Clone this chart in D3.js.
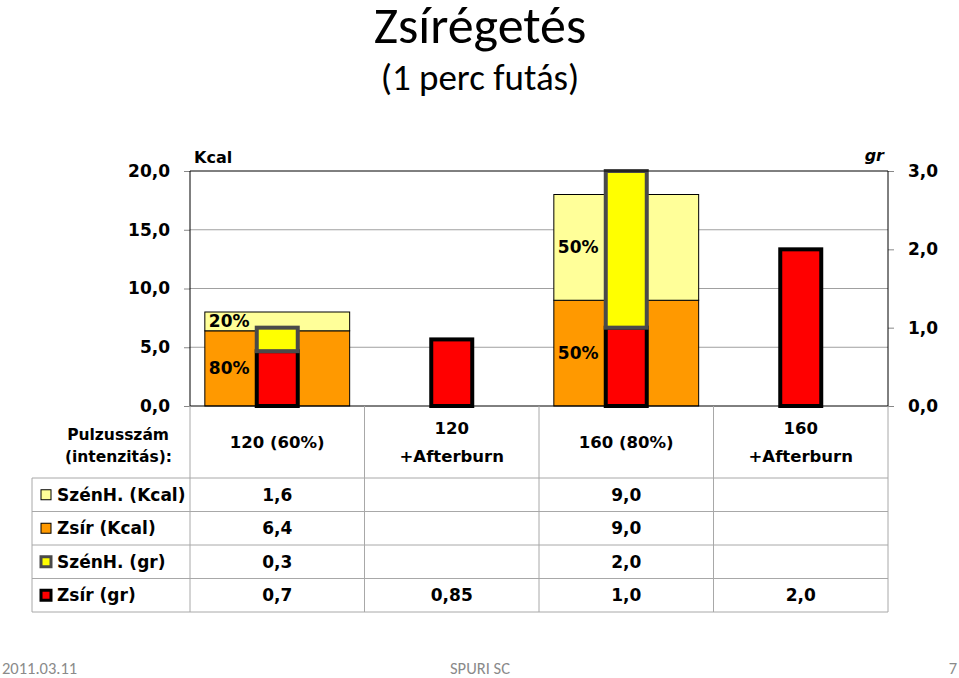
<!DOCTYPE html>
<html><head><meta charset="utf-8">
<script src="https://cdn.jsdelivr.net/npm/d3@7"></script>
<style>
html,body{margin:0;padding:0;background:#fff;}
svg{display:block;}
</style></head>
<body>
<svg id="chart" width="959" height="678"></svg>
<script>
const categories = ["120 (60%)", "120\n+Afterburn", "160 (80%)", "160\n+Afterburn"];
const szenhKcal = [1.6, null, 9.0, null];
const zsirKcal  = [6.4, null, 9.0, null];
const szenhGr   = [0.3, null, 2.0, null];
const zsirGr    = [0.7, 0.85, 1.0, 2.0];
const szenhPct  = ["20%", "", "50%", ""];
const zsirPct   = ["80%", "", "50%", ""];
const leftTicks  = [0, 5, 10, 15, 20];
const rightTicks = [0, 1, 2, 3];
const seriesNames = ["SzénH. (Kcal)", "Zsír (Kcal)", "SzénH. (gr)", "Zsír (gr)"];
const seriesData = [szenhKcal, zsirKcal, szenhGr, zsirGr];

const FONT = "'DejaVu Sans',sans-serif";
const C = {pale:"#FFFF99", orange:"#FF9900", yellow:"#FFFF00", red:"#FF0000", dark:"#4a4a4a"};

const svg = d3.select("#chart");
const L = 190, R = 888, T = 171, B = 406;
const x = d3.scaleBand().domain(categories).range([L, R]).padding(0);
const yL = d3.scaleLinear().domain([0, 20]).range([B, T]);
const yR = d3.scaleLinear().domain([0, 3]).range([B, T]);
const fmt = v => (Math.round(v*10) === v*10 ? d3.format(".1f")(v) : d3.format(".2f")(v)).replace(".", ",");

// Title
const TF = "Carlito,Lato,'Open Sans',sans-serif";
svg.append("text").attr("x", 480).attr("y", 43).attr("text-anchor","middle")
  .attr("font-family", TF).attr("font-size", 52).text("Zsírégetés");
svg.append("text").attr("x", 480).attr("y", 90).attr("text-anchor","middle")
  .attr("font-family", TF).attr("font-size", 37).text("(1 perc futás)");

// Gridlines
svg.append("g").selectAll("line").data(leftTicks.filter(d => d > 0 && d < 20)).join("line")
  .attr("x1", L).attr("x2", R).attr("y1", d => yL(d)).attr("y2", d => yL(d))
  .attr("stroke", "#a0a0a0").attr("stroke-width", 1);

// Left axis
const axL = svg.append("g").attr("transform", `translate(${L},0)`)
  .call(d3.axisLeft(yL).tickValues(leftTicks).tickSize(6).tickPadding(14).tickFormat(fmt));
axL.select(".domain").remove();
axL.selectAll(".tick line").attr("stroke", "#888");
axL.selectAll("text").attr("font-family", FONT).attr("font-weight","bold").attr("font-size", 17).attr("fill","#000");

// Right axis
const axR = svg.append("g").attr("transform", `translate(${R},0)`)
  .call(d3.axisRight(yR).tickValues(rightTicks).tickSize(6).tickPadding(14).tickFormat(fmt));
axR.select(".domain").remove();
axR.selectAll(".tick line").attr("stroke", "#888");
axR.selectAll("text").attr("font-family", FONT).attr("font-weight","bold").attr("font-size", 17).attr("fill","#000");

// Unit labels
svg.append("text").attr("x", 194).attr("y", 163).attr("font-family", FONT).attr("font-weight","bold")
  .attr("font-size", 16).text("Kcal");
svg.append("text").attr("x", 884).attr("y", 161).attr("text-anchor","end").attr("font-family", FONT)
  .attr("font-weight","bold").attr("font-style","italic").attr("font-size", 16).text("gr");

// Wide Kcal bars
const bw = x.bandwidth();
const wideW = bw * 0.83, narrowW = bw * 0.235;
const wx = c => x(c) + (bw - wideW) / 2;
const nx = c => x(c) + (bw - narrowW) / 2;
const gK = svg.append("g");
categories.forEach((c, i) => {
  if (zsirKcal[i] != null) {
    gK.append("rect").attr("x", wx(c)).attr("width", wideW)
      .attr("y", yL(zsirKcal[i])).attr("height", yL(0) - yL(zsirKcal[i]))
      .attr("fill", C.orange).attr("stroke", "#000").attr("stroke-width", 1);
  }
  if (szenhKcal[i] != null) {
    const base = zsirKcal[i] || 0;
    gK.append("rect").attr("x", wx(c)).attr("width", wideW)
      .attr("y", yL(base + szenhKcal[i])).attr("height", yL(base) - yL(base + szenhKcal[i]))
      .attr("fill", C.pale).attr("stroke", "#000").attr("stroke-width", 1);
  }
});
// Percent labels
categories.forEach((c, i) => {
  if (szenhPct[i]) {
    const base = zsirKcal[i];
    svg.append("text").attr("x", wx(c) + 4).attr("y", (yL(base) + yL(base + szenhKcal[i])) / 2)
      .attr("dy", "0.35em").attr("font-family", FONT).attr("font-weight","bold").attr("font-size", 17).text(szenhPct[i]);
  }
  if (zsirPct[i]) {
    svg.append("text").attr("x", wx(c) + 4).attr("y", (yL(0) + yL(zsirKcal[i])) / 2)
      .attr("dy", "0.35em").attr("font-family", FONT).attr("font-weight","bold").attr("font-size", 17).text(zsirPct[i]);
  }
});

// Narrow gr bars
const gG = svg.append("g");
categories.forEach((c, i) => {
  gG.append("rect").attr("x", nx(c)).attr("width", narrowW)
    .attr("y", yR(zsirGr[i])).attr("height", yR(0) - yR(zsirGr[i]))
    .attr("fill", C.red).attr("stroke", "#000").attr("stroke-width", 4);
  if (szenhGr[i] != null) {
    gG.append("rect").attr("x", nx(c)).attr("width", narrowW)
      .attr("y", yR(zsirGr[i] + szenhGr[i])).attr("height", yR(zsirGr[i]) - yR(zsirGr[i] + szenhGr[i]))
      .attr("fill", C.yellow).attr("stroke", C.dark).attr("stroke-width", 4);
  }
});

// Plot frame
svg.append("line").attr("x1", L).attr("x2", R).attr("y1", T).attr("y2", T).attr("stroke", "#000");
svg.append("line").attr("x1", L).attr("x2", L).attr("y1", T).attr("y2", B).attr("stroke", "#000");
svg.append("line").attr("x1", R).attr("x2", R).attr("y1", T).attr("y2", B).attr("stroke", "#000");
svg.append("line").attr("x1", L).attr("x2", R).attr("y1", B).attr("y2", B).attr("stroke", "#000");

// Data table
const rowTop = 478, rowH = 33.5, tableLeft = 32;
const gT = svg.append("g");
const grid = "#a8a8a8";
svg.append("text").attr("x", 169).attr("y", 440).attr("text-anchor","end").attr("font-family", FONT)
  .attr("font-weight","bold").attr("font-size", 15.5).text("Pulzusszám");
svg.append("text").attr("x", 172).attr("y", 462).attr("text-anchor","end").attr("font-family", FONT)
  .attr("font-weight","bold").attr("font-size", 15.5).text("(intenzitás):");
categories.forEach(c => {
  const lines = c.split("\n");
  const cx = x(c) + bw / 2;
  const t = svg.append("text").attr("text-anchor","middle").attr("font-family", FONT)
    .attr("font-weight","bold").attr("font-size", 16.5);
  if (lines.length === 1) {
    t.attr("x", cx).attr("y", 448).text(lines[0]);
  } else {
    t.append("tspan").attr("x", cx).attr("y", 434).text(lines[0]);
    t.append("tspan").attr("x", cx).attr("y", 462).text(lines[1]);
  }
});
[L, ...categories.map(c => x(c) + bw)].forEach(xx => {
  gT.append("line").attr("x1", xx).attr("x2", xx).attr("y1", B).attr("y2", rowTop + rowH * 4)
    .attr("stroke", grid);
});
gT.append("line").attr("x1", tableLeft).attr("x2", tableLeft).attr("y1", rowTop).attr("y2", rowTop + rowH * 4).attr("stroke", grid);
for (let r = 0; r <= 4; r++) {
  gT.append("line").attr("x1", tableLeft).attr("x2", R).attr("y1", rowTop + rowH * r).attr("y2", rowTop + rowH * r)
    .attr("stroke", grid);
}
const legendStyles = [
  {fill: C.pale, stroke: "#000", sw: 1},
  {fill: C.orange, stroke: "#000", sw: 1},
  {fill: C.yellow, stroke: C.dark, sw: 3},
  {fill: C.red, stroke: "#000", sw: 3}
];
seriesNames.forEach((name, r) => {
  const cy = rowTop + rowH * r + rowH / 2;
  const st = legendStyles[r];
  const s = 10;
  gT.append("rect").attr("x", 41).attr("y", cy - s / 2).attr("width", s).attr("height", s)
    .attr("fill", st.fill).attr("stroke", st.stroke).attr("stroke-width", st.sw);
  gT.append("text").attr("x", 57).attr("y", cy).attr("dy", "0.35em").attr("font-family", FONT)
    .attr("font-weight","bold").attr("font-size", 17).text(name);
  seriesData[r].forEach((v, i) => {
    if (v == null) return;
    gT.append("text").attr("x", x(categories[i]) + bw / 2).attr("y", cy).attr("dy", "0.35em")
      .attr("text-anchor","middle").attr("font-family", FONT).attr("font-weight","bold")
      .attr("font-size", 17).text(fmt(v));
  });
});

// Footer
svg.append("text").attr("x", 2).attr("y", 674).attr("font-family", TF).attr("font-size", 16.5).attr("fill", "#8a8a8a").text("2011.03.11");
svg.append("text").attr("x", 480).attr("y", 674).attr("text-anchor","middle").attr("font-family", TF).attr("font-size", 16.5).attr("fill", "#8a8a8a").text("SPURI SC");
svg.append("text").attr("x", 957).attr("y", 674).attr("text-anchor","end").attr("font-family", TF).attr("font-size", 16.5).attr("fill", "#8a8a8a").text("7");
</script>
</body></html>
